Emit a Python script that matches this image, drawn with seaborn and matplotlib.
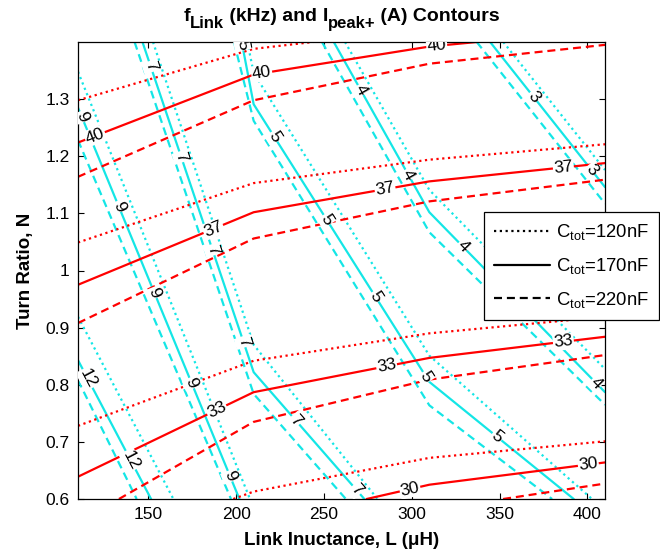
import numpy as np
import pandas as pd
import matplotlib
matplotlib.use("Agg")
import matplotlib.pyplot as plt
from matplotlib.lines import Line2D
import seaborn as sns

# ---------------------------------------------------------------- data
caps = ["120nF", "170nF", "220nF"]

# Peak current contours I_peak+ (A): vertex lists (L in uH, N) per capacitance
ipk_levels = [40, 37, 33, 30]
ipk40_L = [[110, 210, 243.8], [110, 210, 310, 337], [110, 210, 310, 410]]
ipk40_N = [[1.298, 1.388, 1.4], [1.224, 1.343, 1.392, 1.4], [1.164, 1.298, 1.362, 1.395]]
ipk37_L = [[110, 210, 310, 410], [110, 210, 310, 410], [110, 210, 310, 410]]
ipk37_N = [[1.049, 1.153, 1.194, 1.221], [0.975, 1.102, 1.156, 1.188], [0.908, 1.056, 1.121, 1.159]]
ipk33_L = [[110, 210, 310, 410], [110, 210, 310, 410], [133.3, 210, 310, 410]]
ipk33_N = [[0.728, 0.842, 0.890, 0.919], [0.639, 0.787, 0.847, 0.884], [0.6, 0.735, 0.809, 0.852]]
ipk30_L = [[198.4, 210, 310, 410], [274.3, 310, 410], [352, 410]]
ipk30_N = [[0.6, 0.613, 0.672, 0.701], [0.6, 0.625, 0.664], [0.6, 0.627]]

# Link frequency contours f_Link (kHz)
flk_levels = [12, 9, 7, 5, 4, 3]
flk12_L = [[110, 164.3], [110, 151.6], [110, 143.4]]
flk12_N = [[0.919, 0.6], [0.843, 0.6], [0.808, 0.6]]
flk9_L = [[110, 207.9], [110, 201.9], [110, 197.1]]
flk9_N = [[1.348, 0.6], [1.285, 0.6], [1.228, 0.6]]
flk7_L = [[152.7, 210, 280.5], [146.7, 210, 273.0], [142.2, 210, 262.5]]
flk7_N = [[1.4, 0.870, 0.6], [1.4, 0.822, 0.6], [1.4, 0.784, 0.6]]
flk5_L = [[206.4, 210, 310, 402.6], [203.2, 210, 310, 392.2], [198.8, 210, 310, 379.9]]
flk5_N = [[1.4, 1.346, 0.851, 0.6], [1.4, 1.291, 0.805, 0.6], [1.4, 1.262, 0.764, 0.6]]
flk4_L = [[262.0, 310, 410], [255.6, 310, 410], [248.9, 310, 410]]
flk4_N = [[1.4, 1.141, 0.8275], [1.4, 1.102, 0.787], [1.4, 1.067, 0.765]]
flk3_L = [[352.1, 410], [344.6, 410], [337.0, 410]]
flk3_N = [[1.4, 1.176], [1.4, 1.146], [1.4, 1.117]]

# Inline label positions on the 170nF contours (L for current, N for frequency)
ipk_label_L = {40: [119.7, 214.6, 314.2], 37: [187.0, 284.8, 386.3],
               33: [189.0, 285.7, 386.3], 30: [299.0, 400.5]}
flk_label_N = {12: [0.811, 0.668], 9: [1.269, 1.112, 0.961, 0.803, 0.640],
               7: [1.357, 1.199, 1.036, 0.875, 0.738, 0.616],
               5: [1.395, 1.234, 1.089, 0.954, 0.814, 0.709],
               4: [1.316, 1.168, 1.042, 0.803], 3: [1.304, 1.176]}

x_ticks = [150, 200, 250, 300, 350, 400]
y_ticks = [0.6, 0.7, 0.8, 0.9, 1.0, 1.1, 1.2, 1.3]
y_ticklabels = ["0.6", "0.7", "0.8", "0.9", "1", "1.1", "1.2", "1.3"]

# ---------------------------------------------------------------- style
sns.set_theme(style="ticks")
plt.rcParams["font.family"] = ["Liberation Sans", "DejaVu Sans"]
plt.rcParams["mathtext.fontset"] = "custom"
plt.rcParams["mathtext.rm"] = "Liberation Sans"
plt.rcParams["mathtext.it"] = "Liberation Sans:italic"
plt.rcParams["mathtext.bf"] = "Liberation Sans:bold"
for key in ["text.color", "axes.labelcolor", "xtick.color", "ytick.color", "axes.edgecolor"]:
    plt.rcParams[key] = "black"

RED = "#FF0000"
CYAN = "#14E6E6"
LW = 1.6
dash_map = {"120nF": (1, 1.6), "170nF": "", "220nF": (3.6, 2.2)}


def to_frame(levels, L_sets, N_sets, tag):
    rows = []
    for lvl, Ls, Ns in zip(levels, L_sets, N_sets):
        for cap, Lv, Nv in zip(caps, Ls, Ns):
            for l, n in zip(Lv, Nv):
                rows.append({"level": lvl, "cap": cap, "line": f"{tag}{lvl}_{cap}", "L": l, "N": n})
    return pd.DataFrame(rows)


ipk_L_sets = [ipk40_L, ipk37_L, ipk33_L, ipk30_L]
ipk_N_sets = [ipk40_N, ipk37_N, ipk33_N, ipk30_N]
flk_L_sets = [flk12_L, flk9_L, flk7_L, flk5_L, flk4_L, flk3_L]
flk_N_sets = [flk12_N, flk9_N, flk7_N, flk5_N, flk4_N, flk3_N]

df_ipk = to_frame(ipk_levels, ipk_L_sets, ipk_N_sets, "I")
df_flk = to_frame(flk_levels, flk_L_sets, flk_N_sets, "f")

W, H = 660, 558
fig = plt.figure(figsize=(W / 100, H / 100), dpi=100)
ax = fig.add_axes([78 / W, 1 - 499 / H, 527 / W, 457 / H])

sns.lineplot(data=df_flk, x="L", y="N", style="cap", style_order=caps, units="line",
             estimator=None, sort=False, color=CYAN, dashes=dash_map, linewidth=LW,
             legend=False, ax=ax)
sns.lineplot(data=df_ipk, x="L", y="N", style="cap", style_order=caps, units="line",
             estimator=None, sort=False, color=RED, dashes=dash_map, linewidth=LW,
             legend=False, ax=ax)

ax.set_xlim(110, 410)
ax.set_ylim(0.6, 1.4)
ax.set_xticks(x_ticks)
ax.set_yticks(y_ticks)
ax.set_yticklabels(y_ticklabels)
ax.tick_params(direction="in", top=True, right=True, bottom=True, left=True,
               length=4, width=0.8, labelsize=12.5, pad=6)
for sp in ax.spines.values():
    sp.set_visible(True)
    sp.set_linewidth(0.9)
    sp.set_color("black")


def seg_angle(Lv, Nv, i):
    p0 = ax.transData.transform((Lv[i], Nv[i]))
    p1 = ax.transData.transform((Lv[i + 1], Nv[i + 1]))
    ang = np.degrees(np.arctan2(p1[1] - p0[1], p1[0] - p0[0]))
    if ang > 90:
        ang -= 180
    if ang < -90:
        ang += 180
    return ang


def put_label(x, y, ang, txt):
    ax.text(x, y, txt, rotation=ang, rotation_mode="anchor", ha="center", va="center",
            fontsize=12.5, zorder=5, clip_on=True,
            bbox=dict(boxstyle="square,pad=0.05", fc="white", ec="none"))


# labels on the 170nF current contours
for lvl, Ls, Ns in zip(ipk_levels, ipk_L_sets, ipk_N_sets):
    Lv, Nv = Ls[1], Ns[1]
    for x in ipk_label_L[lvl]:
        y = np.interp(x, Lv, Nv)
        i = min(np.searchsorted(Lv, x) - 1, len(Lv) - 2)
        put_label(x, y, seg_angle(Lv, Nv, max(i, 0)), str(lvl))

# labels on the 170nF frequency contours
for lvl, Ls, Ns in zip(flk_levels, flk_L_sets, flk_N_sets):
    Lv, Nv = Ls[1], Ns[1]
    for y in flk_label_N[lvl]:
        x = np.interp(y, Nv[::-1], Lv[::-1])
        i = min(np.searchsorted(Lv, x) - 1, len(Lv) - 2)
        put_label(x, y, seg_angle(Lv, Nv, max(i, 0)), str(lvl))

ax.set_xlabel("Link Inuctance, L (μH)", fontsize=13.5, fontweight="bold", labelpad=7)
ax.set_ylabel("Turn Ratio, N", fontsize=13.5, fontweight="bold", labelpad=8)

# title with large subscripts, assembled piece by piece and centred on the axes
renderer = fig.canvas.get_renderer()
title_parts = [("f", 14, 0), ("Link", 12, 7), (" (kHz) and ", 14, 0),
               ("I", 14, 0), ("peak+", 12, 7), (" (A) Contours", 14, 0)]
parts = []
for s, size, dy in title_parts:
    t = fig.text(0, 0, s, fontsize=size, fontweight="bold", ha="left", va="baseline")
    parts.append((t, dy, t.get_window_extent(renderer).width))
total = sum(w for _, _, w in parts)
xpos = (78 + 605) / 2 - total / 2
for t, dy, w in parts:
    t.set_position((xpos / W, 1 - (21 + dy) / H))
    xpos += w

handles = [Line2D([], [], color="black", lw=LW, linestyle=(0, dash_map["120nF"])),
           Line2D([], [], color="black", lw=LW, linestyle="-"),
           Line2D([], [], color="black", lw=LW, linestyle=(0, dash_map["220nF"]))]
labels = [r"C$_{\mathrm{tot}}$=120nF", r"C$_{\mathrm{tot}}$=170nF", r"C$_{\mathrm{tot}}$=220nF"]
leg = ax.legend(handles, labels, loc="upper left", bbox_to_anchor=(484 / W, 1 - 212 / H),
                bbox_transform=fig.transFigure, frameon=True, fancybox=False,
                edgecolor="black", framealpha=1, fontsize=13.3, handlelength=3.0,
                handletextpad=0.35, labelspacing=0.75, borderpad=0.55, borderaxespad=0)
leg.get_frame().set_linewidth(0.9)

fig.savefig("out.png", dpi=100)
